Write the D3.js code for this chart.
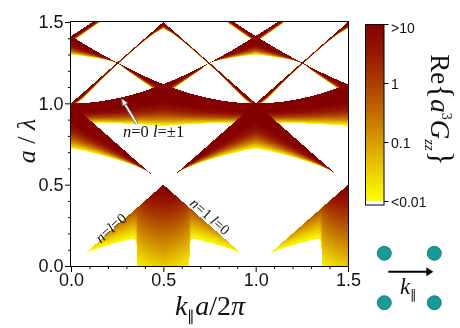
<!DOCTYPE html>
<html>
<head>
<meta charset="utf-8">
<script src="https://cdn.jsdelivr.net/npm/d3@7/dist/d3.min.js"></script>
<style>
html,body{margin:0;padding:0;background:#fff;}
#wrap{position:relative;width:460px;height:328px;overflow:hidden;background:#fff;}
#wrap canvas,#wrap svg{position:absolute;left:0;top:0;}
</style>
</head>
<body>
<div id="wrap"></div>
<script>
// ================= DATA =================
// axes
const xMajorTicks = [0.0, 0.5, 1.0, 1.5];
const yMajorTicks = [0.0, 0.5, 1.0, 1.5];
const xMinorTicks = [0.1, 0.2, 0.3, 0.4, 0.6, 0.7, 0.8, 0.9, 1.1, 1.2, 1.3, 1.4];
const yMinorTicks = [0.1, 0.2, 0.3, 0.4, 0.6, 0.7, 0.8, 0.9, 1.1, 1.2, 1.3, 1.4];

// colour bar (log10 of Re{a^3 Gzz})
const colorbarTicks  = [1, 0, -1, -2];
const colorbarLabels = [">10", "1", "0.1", "<0.01"];
const colorStops      = [-2, -1.5, -1, -0.5, 0, 0.5, 1];
const colorStopColors = ["#ffff00", "#ecd000", "#d69c00", "#c06c00", "#aa3e00", "#961800", "#840000"];

// Bands of the map in the reduced zone 0 <= k||a/2pi <= 0.5
// (the map is mirror-symmetric about 0.5 and periodic with period 1).
// For each band: k samples, upper edge a/lambda, lower edge a/lambda,
// log10 value at upper edge, log10 value at lower edge.
// Band A : below n=l=0 light line
const bandA_k    = [0.088, 0.10, 0.15, 0.20, 0.25, 0.30, 0.34, 0.350, 0.356, 0.360, 0.40, 0.45, 0.50];
const bandA_top  = [0.088, 0.10, 0.15, 0.20, 0.25, 0.30, 0.34, 0.350, 0.356, 0.360, 0.40, 0.45, 0.50];
const bandA_bot  = [0.086, 0.090, 0.110, 0.127, 0.143, 0.158, 0.168, 0.160, 0.120, 0.000, 0.000, 0.000, 0.000];
const bandA_vTop = [-1.9, -1.75, -1.25, -0.85, -0.6, -0.35, -0.15, -0.1, -0.1, -0.05, 0.45, 0.9, 1.2];
const bandA_vBot = [-2.0, -2.0, -2.0, -2.0, -2.0, -2.0, -2.0, -1.95, -1.9, -1.85, -1.7, -1.55, -1.45];
// Band B : below n=1 l=0 line
const bandB_k    = [0.00, 0.05, 0.10, 0.15, 0.20, 0.25, 0.30, 0.35, 0.40, 0.45, 0.50];
const bandB_top  = [1.00, 0.95, 0.90, 0.85, 0.80, 0.75, 0.70, 0.65, 0.60, 0.55, 0.50];
const bandB_bot  = [0.722, 0.713, 0.700, 0.686, 0.670, 0.653, 0.635, 0.614, 0.590, 0.553, 0.500];
const bandB_vTop = [1.2, 1.2, 1.2, 1.2, 1.2, 1.2, 1.2, 1.2, 1.2, 1.2, 1.2];
const bandB_vBot = [-2, -2, -2, -2, -2, -2, -2, -2, -2, -2, -2];
// Band E : below n=0 l=±1 curve
const bandE_k    = [0.00, 0.05, 0.10, 0.15, 0.20, 0.25, 0.30, 0.35, 0.40, 0.45, 0.50];
const bandE_top  = [1.000, 1.001, 1.005, 1.011, 1.020, 1.031, 1.044, 1.059, 1.077, 1.097, 1.118];
const bandE_bot  = [0.880, 0.880, 0.880, 0.880, 0.879, 0.877, 0.875, 0.872, 0.869, 0.865, 0.862];
const bandE_vTop = [1.2, 1.2, 1.2, 1.2, 1.2, 1.2, 1.2, 1.2, 1.2, 1.2, 1.2];
const bandE_vBot = [-2, -2, -2, -2, -2, -2, -2, -2, -2, -2, -2];
// Band F : below n=1 l=±1 curve
const bandF_k    = [0.00, 0.05, 0.10, 0.15, 0.20, 0.23, 0.25, 0.27, 0.30, 0.35, 0.40, 0.45, 0.50];
const bandF_top  = [1.414, 1.379, 1.345, 1.312, 1.281, 1.262, 1.250, 1.239, 1.221, 1.193, 1.166, 1.141, 1.118];
const bandF_bot  = [1.300, 1.293, 1.285, 1.276, 1.265, 1.255, 1.247, 1.233, 1.205, 1.165, 1.125, 1.085, 1.045];
const bandF_vTop = [1.2, 1.2, 1.2, 1.2, 1.2, 1.2, 1.2, 1.2, 1.2, 1.2, 1.2, 1.2, 1.2];
const bandF_vBot = [-2, -2, -2, -2, -2, -2, -2, -2, -2, -2, -2, -2, -2];
// Band G : below n=-1 l=±1 curve
const bandG_k    = [0.00, 0.03, 0.06, 0.09, 0.12, 0.15];
const bandG_top  = [1.414, 1.435, 1.457, 1.479, 1.502, 1.524];
const bandG_bot  = [1.370, 1.398, 1.422, 1.446, 1.470, 1.494];
const bandG_vTop = [1.2, 1.2, 1.2, 1.2, 1.2, 1.2];
const bandG_vBot = [-2, -2, -2, -2, -2, -2];
// Band H : below n=-1 l=0 line
const bandH_k    = [0.00, 0.03, 0.06, 0.10, 0.15, 0.20, 0.25, 0.30, 0.35, 0.40, 0.45, 0.50];
const bandH_top  = [1.00, 1.03, 1.06, 1.10, 1.15, 1.20, 1.25, 1.30, 1.35, 1.40, 1.45, 1.50];
const bandH_bot  = [1.000, 1.000, 1.025, 1.070, 1.128, 1.184, 1.237, 1.288, 1.338, 1.386, 1.428, 1.460];
const bandH_vTop = [1.2, 1.2, 1.2, 1.2, 1.2, 1.2, 1.2, 1.2, 1.2, 1.2, 1.2, 1.2];
const bandH_vBot = [-2, -2, -2, -2, -2, -2, -2, -2, -2, -2, -2, -2];

const bands = [
  {k: bandA_k, top: bandA_top, bot: bandA_bot, vTop: bandA_vTop, vBot: bandA_vBot, p: 0.9},
  {k: bandB_k, top: bandB_top, bot: bandB_bot, vTop: bandB_vTop, vBot: bandB_vBot, p: 3.0},
  {k: bandE_k, top: bandE_top, bot: bandE_bot, vTop: bandE_vTop, vBot: bandE_vBot, p: 3.0},
  {k: bandF_k, top: bandF_top, bot: bandF_bot, vTop: bandF_vTop, vBot: bandF_vBot, p: 3.0},
  {k: bandG_k, top: bandG_top, bot: bandG_bot, vTop: bandG_vTop, vBot: bandG_vBot, p: 3.0},
  {k: bandH_k, top: bandH_top, bot: bandH_bot, vTop: bandH_vTop, vBot: bandH_vBot, p: 3.0}
];

// annotations (data coordinates)
const annotN0 = {k: 0.2816, w: 0.790, text: ["n", "=0 ", "l", "=±1"]};
const annotArrow = {k0: 0.357, w0: 0.873, k1: 0.2735, w1: 1.030};
const annotNl0 = {k: 0.2166, w: 0.2336};
const annotN1 = {k: 0.7527, w: 0.3043};

// lattice inset (unit cell coordinates)
const latticeX = [0, 1, 0, 1];
const latticeY = [0, 0, 1, 1];

// ================= DRAWING =================
const W = 460, H = 328;
const x = d3.scaleLinear().domain([0, 1.5]).range([71, 348]);
const y = d3.scaleLinear().domain([0, 1.5]).range([266, 22]);
const color = d3.scaleLinear().domain(colorStops).range(colorStopColors)
  .interpolate(d3.interpolateRgb).clamp(true);

const wrap = d3.select("#wrap");
const canvas = wrap.append("canvas").attr("width", W).attr("height", H);
const ctx = canvas.node().getContext("2d");
ctx.fillStyle = "#fff";
ctx.fillRect(0, 0, W, H);

const bandFns = bands.map(b => ({
  lo: d3.min(b.k), hi: d3.max(b.k),
  top: d3.scaleLinear().domain(b.k).range(b.top),
  bot: d3.scaleLinear().domain(b.k).range(b.bot),
  vt: d3.scaleLinear().domain(b.k).range(b.vTop),
  vb: d3.scaleLinear().domain(b.k).range(b.vBot),
  p: b.p
}));

const px0 = Math.round(x(0)), px1 = Math.round(x(1.5));
const py0 = Math.round(y(1.5)), py1 = Math.round(y(0));
const iw = px1 - px0, ih = py1 - py0;
const img = ctx.createImageData(iw, ih);
const lut = d3.range(0, 321).map(i => d3.rgb(color(-2 + i * 0.01)));
for (let i = 0; i < iw; i++) {
  const k = x.invert(px0 + i + 0.5);
  let kf = k % 1;
  if (kf > 0.5) kf = 1 - kf;
  const cols = bandFns.filter(b => kf >= b.lo && kf <= b.hi).map(b => ({
    t: b.top(kf), b: b.bot(kf), vt: b.vt(kf), vb: b.vb(kf), p: b.p
  }));
  for (let j = 0; j < ih; j++) {
    const w = y.invert(py0 + j + 0.5);
    let best = -Infinity;
    for (const c of cols) {
      if (w <= c.t && w >= c.b) {
        const span = c.t - c.b;
        const tt = span > 1e-6 ? (c.t - w) / span : 0;
        const v = c.vt + (c.vb - c.vt) * Math.pow(tt, c.p);
        if (v > best) best = v;
      }
    }
    const o = (j * iw + i) * 4;
    if (best >= -2.0) {
      const li = Math.max(0, Math.min(320, Math.round((best + 2) * 100)));
      const c = lut[li];
      img.data[o] = c.r; img.data[o + 1] = c.g; img.data[o + 2] = c.b; img.data[o + 3] = 255;
    } else {
      img.data[o] = 255; img.data[o + 1] = 255; img.data[o + 2] = 255; img.data[o + 3] = 255;
    }
  }
}
ctx.putImageData(img, px0, py0);

const svg = wrap.append("svg").attr("width", W).attr("height", H);
const sans = "'Liberation Sans', Arial, Helvetica, sans-serif";
const serif = "'Liberation Serif', 'Times New Roman', serif";

// frame
svg.append("rect")
  .attr("x", x(0) - 0.5).attr("y", y(1.5) - 0.5)
  .attr("width", x(1.5) - x(0) + 1).attr("height", y(0) - y(1.5) + 1)
  .attr("fill", "none").attr("stroke", "#000").attr("stroke-width", 1);

function styleAxis(g) {
  g.select(".domain").remove();
  g.selectAll("line").attr("stroke", "#000");
  g.selectAll("text").attr("font-family", sans).attr("font-size", 18).attr("fill", "#111");
}
svg.append("g").attr("transform", `translate(0,${y(0)})`)
  .call(d3.axisBottom(x).tickValues(xMajorTicks).tickFormat(d3.format(".1f")).tickSize(6).tickPadding(1))
  .call(styleAxis);
svg.append("g").attr("transform", `translate(0,${y(0)})`)
  .call(d3.axisBottom(x).tickValues(xMinorTicks).tickFormat("").tickSize(3))
  .call(styleAxis);
svg.append("g").attr("transform", `translate(${x(0)},0)`)
  .call(d3.axisLeft(y).tickValues(yMajorTicks).tickFormat(d3.format(".1f")).tickSize(6).tickPadding(1.5))
  .call(styleAxis);
svg.append("g").attr("transform", `translate(${x(0)},0)`)
  .call(d3.axisLeft(y).tickValues(yMinorTicks).tickFormat("").tickSize(3))
  .call(styleAxis);

// axis titles
const xt = svg.append("text").attr("x", 210).attr("y", 315)
  .attr("text-anchor", "middle").attr("font-family", serif).attr("font-size", 28).attr("fill", "#111");
xt.append("tspan").attr("font-style", "italic").text("k");
xt.append("tspan").attr("font-size", 15).attr("dy", 6).text("\u2225");
xt.append("tspan").attr("font-style", "italic").attr("dy", -6).text("a");
xt.append("tspan").text("/2");
xt.append("tspan").attr("font-style", "italic").text("\u03c0");

const yt = svg.append("text").attr("transform", "translate(35,141) rotate(-90)")
  .attr("text-anchor", "middle").attr("font-family", serif).attr("font-size", 26).attr("fill", "#111");
yt.append("tspan").attr("font-style", "italic").text("a");
yt.append("tspan").text(" / ");
yt.append("tspan").attr("font-style", "italic").text("\u03bb");

// annotations
const arrowG = svg.append("g");
{
  const ax0 = x(annotArrow.k0), ay0 = y(annotArrow.w0), ax1 = x(annotArrow.k1), ay1 = y(annotArrow.w1);
  const ang = Math.atan2(ay1 - ay0, ax1 - ax0);
  const hl = 7, hw = 3;
  const bx = ax1 - hl * Math.cos(ang), by = ay1 - hl * Math.sin(ang);
  arrowG.append("line").attr("x1", ax0).attr("y1", ay0).attr("x2", bx).attr("y2", by)
    .attr("stroke", "#666").attr("stroke-width", 3);
  arrowG.append("line").attr("x1", ax0).attr("y1", ay0).attr("x2", bx).attr("y2", by)
    .attr("stroke", "#fff").attr("stroke-width", 1.5);
  const pts = [[ax1, ay1],
    [bx + hw * Math.sin(ang), by - hw * Math.cos(ang)],
    [bx - hw * Math.sin(ang), by + hw * Math.cos(ang)]];
  arrowG.append("polygon").attr("points", pts.map(p => p.join(",")).join(" "))
    .attr("fill", "#fff").attr("stroke", "#666").attr("stroke-width", 0.8);
}
const t0 = svg.append("text").attr("x", x(annotN0.k)).attr("y", y(annotN0.w))
  .attr("font-family", serif).attr("font-size", 16.5).attr("fill", "#111");
annotN0.text.forEach((s, i) => t0.append("tspan").attr("font-style", i % 2 === 0 ? "italic" : "normal").text(s));

const slope = Math.atan2(y(0) - y(1), x(1) - x(0)) * 180 / Math.PI;
const t1 = svg.append("text")
  .attr("transform", `translate(${x(annotNl0.k)},${y(annotNl0.w)}) rotate(${-slope})`)
  .attr("text-anchor", "middle").attr("dominant-baseline", "central")
  .attr("font-family", serif).attr("font-size", 15).attr("fill", "#111");
t1.append("tspan").attr("font-style", "italic").text("n");
t1.append("tspan").text("=");
t1.append("tspan").attr("font-style", "italic").text("l");
t1.append("tspan").text("=0");

const t2 = svg.append("text")
  .attr("transform", `translate(${x(annotN1.k)},${y(annotN1.w)}) rotate(${slope})`)
  .attr("text-anchor", "middle").attr("dominant-baseline", "central")
  .attr("font-family", serif).attr("font-size", 15).attr("fill", "#111");
t2.append("tspan").attr("font-style", "italic").text("n");
t2.append("tspan").text("=1 ");
t2.append("tspan").attr("font-style", "italic").text("l");
t2.append("tspan").text("=0");

// colour bar
const cb = d3.scaleLinear().domain([1, -2]).range([24, 201]);
const cbRows = d3.range(Math.round(cb(1)), Math.round(cb(-2)));
svg.append("g").selectAll("rect").data(cbRows).join("rect")
  .attr("x", 365).attr("y", d => d).attr("width", 19).attr("height", 1.05)
  .attr("fill", d => color(cb.invert(d + 0.5)));
svg.append("rect").attr("x", 365.5).attr("y", 24.5).attr("width", 18.5).attr("height", 180.5)
  .attr("fill", "none").attr("stroke", "#000").attr("stroke-width", 1);
svg.append("g").selectAll("line").data(colorbarTicks).join("line")
  .attr("x1", 384).attr("x2", 388.5)
  .attr("y1", d => Math.round(cb(d)) + 0.5).attr("y2", d => Math.round(cb(d)) + 0.5)
  .attr("stroke", "#000");
svg.append("g").selectAll("text").data(colorbarTicks).join("text")
  .attr("x", 391).attr("y", (d, i) => cb(d) + (i === 0 ? 3.5 : 1))
  .attr("dominant-baseline", "central")
  .attr("font-family", sans).attr("font-size", 14).attr("fill", "#111")
  .text((d, i) => colorbarLabels[i]);

const ct = svg.append("text").attr("transform", "translate(431,110) rotate(90)")
  .attr("text-anchor", "middle").attr("font-family", serif).attr("font-size", 27).attr("fill", "#111");
ct.append("tspan").text("Re");
ct.append("tspan").attr("font-size", 31).text("{");
ct.append("tspan").attr("font-style", "italic").text("a");
ct.append("tspan").attr("font-size", 14).attr("dy", -11).text("3");
ct.append("tspan").attr("font-style", "italic").attr("dy", 11).text("G");
ct.append("tspan").attr("font-style", "italic").attr("font-size", 15).attr("dy", 6).text("zz");
ct.append("tspan").attr("font-size", 31).attr("dy", -6).text("}");

// lattice inset
const lx = d3.scaleLinear().domain([0, 1]).range([384.3, 434.3]);
const ly = d3.scaleLinear().domain([0, 1]).range([253.3, 302.7]);
svg.append("g").selectAll("circle").data(latticeX).join("circle")
  .attr("cx", d => lx(d)).attr("cy", (d, i) => ly(latticeY[i])).attr("r", 7)
  .attr("fill", "#169c98").attr("stroke", "#0c6b68").attr("stroke-width", 0.8);
svg.append("line").attr("x1", lx(0.08)).attr("x2", lx(0.86)).attr("y1", ly(0.375)).attr("y2", ly(0.375))
  .attr("stroke", "#000").attr("stroke-width", 2);
svg.append("polygon")
  .attr("points", [[lx(0.98), ly(0.375)], [lx(0.84), ly(0.375) - 4.5], [lx(0.84), ly(0.375) + 4.5]].map(p => p.join(",")).join(" "))
  .attr("fill", "#000");
const kt = svg.append("text").attr("x", 400).attr("y", 294)
  .attr("font-family", serif).attr("font-size", 23).attr("fill", "#111");
kt.append("tspan").attr("font-style", "italic").text("k");
kt.append("tspan").attr("font-size", 13).attr("dy", 5).text("\u2225");
</script>
</body>
</html>
